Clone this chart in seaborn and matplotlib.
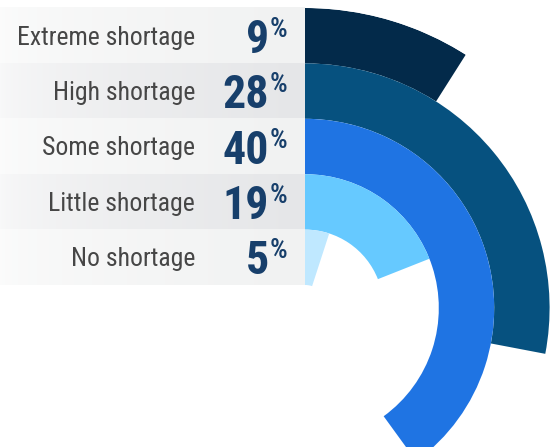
import numpy as np
import pandas as pd
import matplotlib
matplotlib.use("Agg")
import matplotlib.pyplot as plt
from matplotlib.colors import to_rgb
import seaborn as sns

# Survey answers, outermost ring first
categories = ["Extreme shortage", "High shortage", "Some shortage",
              "Little shortage", "No shortage"]
shares = [9, 28, 40, 19, 5]
ring_colors = ["#032a4a", "#06517f", "#1f74e3", "#66c9ff", "#bfe8ff"]

sns.set_theme(style="white")
plt.rcParams["font.family"] = ["Roboto Condensed", "Liberation Sans Narrow",
                               "Roboto", "DejaVu Sans"]

W, H = 556, 447
fig = plt.figure(figsize=(W / 100, H / 100), dpi=100)
fig.patch.set_facecolor("white")

# ---- label panel, laid out in pixel units ----
bg = fig.add_axes([0, 0, 1, 1])
panel_right = 305
row_top = 8.0
row_h = 55.4
n = len(categories)
band_tones = ["#f1f2f2", "#e5e6e8"]
navy = "#173f6b"

xs = np.linspace(0, 1, 400)
ramp = np.clip(0.25 + 0.75 * xs ** 0.6, 0, 1)
white = np.ones(3)
for i in range(n):
    y0 = row_top + i * row_h
    y1 = y0 + row_h
    tone = np.array(to_rgb(band_tones[i % 2]))
    img = white[None, :] * (1 - ramp[:, None]) + tone[None, :] * ramp[:, None]
    bg.imshow(img[None, :, :], extent=(0, panel_right, y1, y0),
              aspect="auto", interpolation="bilinear", zorder=0)

for i, (cat, val) in enumerate(zip(categories, shares)):
    yc = row_top + (i + 0.5) * row_h
    bg.text(195, yc + 9, cat, ha="right", va="baseline",
            fontsize=18.5, color="#464646")
    bg.text(269, yc + 17, f"{val}", ha="right", va="baseline",
            fontsize=33, fontweight="bold", color=navy)
    bg.text(270, yc + 1, "%", ha="left", va="baseline",
            fontsize=20, fontweight="medium", color=navy)

bg.set_xlim(0, W)
bg.set_ylim(H, 0)
bg.set_axis_off()

# ---- radial bars ----
cx, cy, R = 305, 308, 300
pax = fig.add_axes([(cx - R) / W, (H - cy - R) / H, 2 * R / W, 2 * R / H],
                   projection="polar")
df = pd.DataFrame({"category": categories,
                   "theta": np.array(shares) / 100 * 2 * np.pi})
sns.barplot(data=df, x="theta", y="category", hue="category",
            order=categories[::-1], hue_order=categories,
            palette=ring_colors, orient="h", width=1, saturation=1,
            errorbar=None, legend=False, linewidth=0, edgecolor="none",
            ax=pax)
pax.set_theta_zero_location("N")
pax.set_theta_direction(-1)
pax.set_xlim(0, 2 * np.pi)
hole = 23 / row_h
pax.set_ylim(-0.5 - hole, n - 0.5)
pax.set_axis_off()

fig.savefig("out.png", dpi=100, facecolor="white")
